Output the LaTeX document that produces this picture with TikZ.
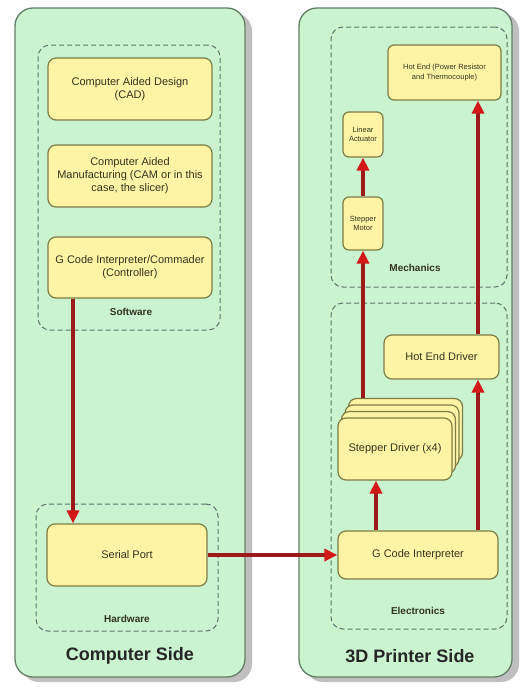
\documentclass[tikz,border=0pt]{standalone}
\usepackage{fontspec}
\setmainfont{Liberation Sans}
\usetikzlibrary{arrows.meta}
\definecolor{panelfill}{HTML}{C9F4CF}
\definecolor{paneldraw}{HTML}{627E66}
\definecolor{boxfill}{HTML}{FFF4A6}
\definecolor{boxdraw}{HTML}{7E7C44}
\definecolor{dashdraw}{HTML}{60726E}
\definecolor{arrline}{HTML}{9C1A1A}
\definecolor{arrhead}{HTML}{D21818}
\definecolor{txt}{HTML}{33331F}
\tikzset{
  panel/.style={draw=paneldraw, line width=1.3pt, fill=panelfill, rounded corners=18pt, inner sep=0pt},
  group/.style={draw=dashdraw, dashed, dash pattern=on 5pt off 3pt, line width=1pt, rounded corners=12pt, inner sep=0pt},
  blk/.style={draw=boxdraw, line width=1.2pt, fill=boxfill, rounded corners=8pt, align=center, text=txt, inner sep=2pt, font=\fontsize{11}{13}\selectfont},
  smallblk/.style={blk, rounded corners=6pt, font=\fontsize{7.5}{9.5}\selectfont},
  grouplabel/.style={font=\bfseries\fontsize{10}{12}\selectfont, text=txt},
  sidelabel/.style={font=\bfseries\fontsize{18}{21}\selectfont, text=black!85},
  arr/.style={draw=arrline, line width=3.2pt, -{Triangle[length=13pt,width=12pt,color=arrhead]}},
  shadow/.style={fill=black!25, rounded corners=18pt, draw=none}
}
\begin{document}
\begin{tikzpicture}[x=1pt,y=-1pt]
\useasboundingbox (0,0) rectangle (522,688);
\fill[white] (0,0) rectangle (522,688);
% shadows
\fill[shadow] (21,13) rectangle (252,682);
\fill[shadow] (305,13) rectangle (519,682);
% panels
\node[panel, minimum width=230pt, minimum height=669pt] (left) at (130,342.5) {};
\node[panel, minimum width=213pt, minimum height=669pt] (right) at (405.5,342.5) {};
% dashed groups
\node[group, minimum width=182pt, minimum height=285pt] (software) at (129,187.5) {};
\node[group, minimum width=182pt, minimum height=127pt] (hardware) at (127,567.5) {};
\node[group, minimum width=176pt, minimum height=260pt] (mechanics) at (419,157) {};
\node[group, minimum width=176pt, minimum height=326pt] (electronics) at (419,466) {};
% group labels
\node[grouplabel] (softwarelbl) at (131,312) {Software};
\node[grouplabel] (hardwarelbl) at (127,619) {Hardware};
\node[grouplabel] (mechanicslbl) at (415,268) {Mechanics};
\node[grouplabel] (electronicslbl) at (418,611) {Electronics};
\node[sidelabel] (computerside) at (130,656) {Computer Side};
\node[sidelabel] (printerside) at (410,656) {3D Printer Side};
% computer side blocks
\node[blk, minimum width=164pt, minimum height=62pt] (cad) at (130,89) {Computer Aided Design\\(CAD)};
\node[blk, minimum width=164pt, minimum height=62pt] (cam) at (130,176) {Computer Aided\\Manufacturing (CAM or in this\\case, the slicer)};
\node[blk, minimum width=164pt, minimum height=61pt] (gci) at (130,267.5) {G Code Interpreter/Commader\\(Controller)};
\node[blk, minimum width=160pt, minimum height=62pt] (serial) at (127,555) {Serial Port};
% printer side blocks
\node[smallblk, minimum width=113pt, minimum height=55pt] (hotend) at (444.5,72.5) {Hot End (Power Resistor\\and Thermocouple)};
\node[smallblk, minimum width=40pt, minimum height=45pt] (linear) at (363,134.5) {Linear\\Actuator};
\node[smallblk, minimum width=40pt, minimum height=53pt] (motor) at (363,223.5) {Stepper\\Motor};
\node[blk, minimum width=115pt, minimum height=44pt] (hotdriver) at (441.5,357) {Hot End Driver};
\node[blk, minimum width=114pt, minimum height=62pt] (sd3) at (405.5,429.5) {};
\node[blk, minimum width=114pt, minimum height=62pt] (sd2) at (402,436) {};
\node[blk, minimum width=114pt, minimum height=62pt] (sd1) at (398.5,442.5) {};
\node[blk, minimum width=114pt, minimum height=62pt] (sd) at (395,449) {Stepper Driver (x4)};
\node[blk, minimum width=160pt, minimum height=48pt] (gcode) at (418,555) {G Code Interpreter};
% connector x positions
\coordinate (xa) at (73,0);
\coordinate (xb) at (376,0);
\coordinate (xc) at (478,0);
% connectors
\draw[arr] (gci.south -| xa) -- (serial.north -| xa);
\draw[arr] (serial.east) -- (gcode.west);
\draw[arr] (gcode.north -| xb) -- (sd.south -| xb);
\draw[arr] (gcode.north -| xc) -- (hotdriver.south -| xc);
\draw[arr] (sd3.north -| motor.south) -- (motor.south);
\draw[arr] (motor.north) -- (linear.south);
\draw[arr] (hotdriver.north -| xc) -- (hotend.south -| xc);
\end{tikzpicture}
\end{document}
